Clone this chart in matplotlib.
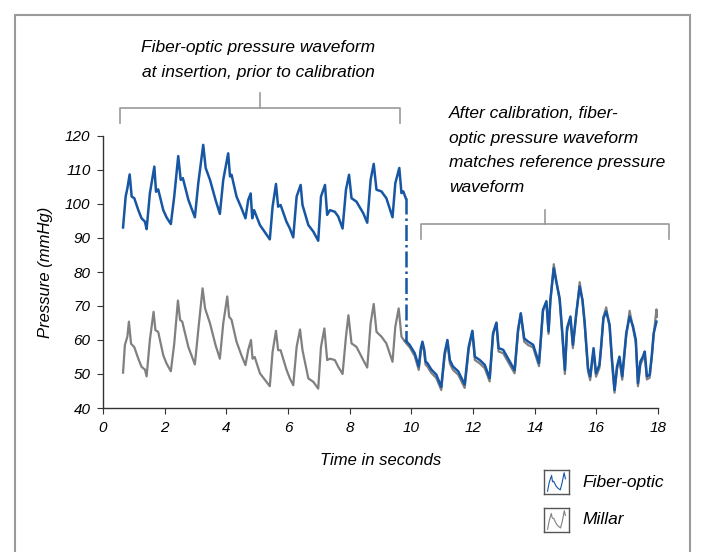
import matplotlib.pyplot as plt
from matplotlib.patches import Rectangle

plt.rcParams['font.family'] = ['Liberation Sans', 'DejaVu Sans']
plt.rcParams['font.style'] = 'italic'

# Fiber-optic trace before calibration (time s, mmHg)
fiber_pre_t = [0.65, 0.735, 0.79, 0.865, 0.93, 1.015, 1.145, 1.25, 1.36, 1.415,
               1.52, 1.665, 1.72, 1.79, 1.955, 2.06, 2.2, 2.31, 2.44, 2.52,
               2.59, 2.77, 2.88, 2.98, 3.09, 3.25, 3.33, 3.47, 3.65, 3.79,
               3.9, 4.06, 4.12, 4.17, 4.33, 4.49, 4.62, 4.71, 4.79, 4.84,
               4.9, 5.09, 5.41, 5.5, 5.61, 5.68, 5.76, 5.95, 6.06, 6.17,
               6.28, 6.41, 6.47, 6.66, 6.82, 6.98, 7.07, 7.2, 7.27, 7.36,
               7.52, 7.63, 7.77, 7.88, 7.98, 8.06, 8.22, 8.44, 8.57, 8.68,
               8.78, 8.87, 9.03, 9.19, 9.39, 9.48, 9.61, 9.68, 9.74, 9.82]
fiber_pre_v = [93.1, 102.2, 104.6, 108.7, 102.2, 101.7, 98.2, 95.8, 94.8, 92.6,
               103.1, 111.0, 103.6, 104.3, 98.2, 96.1, 94.1, 102.2, 114.1, 107.1,
               107.6, 101.2, 98.5, 96.1, 106.1, 117.4, 110.6, 107.1, 101.2, 97.1,
               107.1, 114.9, 108.1, 108.6, 102.2, 98.8, 95.8, 101.2, 103.1, 95.8,
               98.2, 93.8, 89.6, 99.2, 105.9, 99.2, 99.7, 94.8, 92.8, 90.2,
               102.2, 105.6, 99.7, 93.8, 91.9, 89.2, 102.2, 105.6, 96.8, 98.2,
               97.7, 96.3, 92.8, 104.2, 108.6, 101.7, 100.7, 97.3, 94.5, 107.1,
               111.8, 104.2, 103.7, 101.7, 96.1, 106.1, 110.6, 103.2, 103.7, 101.7]

# Fiber-optic trace after calibration
fiber_post_t = [9.82, 9.95, 10.11, 10.24, 10.31, 10.36, 10.42, 10.46, 10.52, 10.65,
                10.81, 10.97, 11.08, 11.17, 11.25, 11.35, 11.52, 11.73, 11.86, 11.98,
                12.06, 12.22, 12.38, 12.54, 12.65, 12.76, 12.83, 12.98, 13.19, 13.35,
                13.46, 13.55, 13.66, 13.79, 13.95, 14.14, 14.27, 14.38, 14.45, 14.51,
                14.62, 14.7, 14.81, 14.89, 14.98, 15.05, 15.16, 15.24, 15.35, 15.46,
                15.55, 15.62, 15.73, 15.8, 15.91, 15.99, 16.1, 16.15, 16.23, 16.32,
                16.43, 16.51, 16.59, 16.67, 16.75, 16.84, 16.97, 17.08, 17.19, 17.28,
                17.35, 17.43, 17.51, 17.57, 17.64, 17.73, 17.8, 17.86, 17.95]
fiber_post_v = [59.8, 58.5, 56.1, 52.2, 57.6, 59.5, 57.1, 53.7, 53.2, 51.3,
                49.8, 46.2, 56.1, 60.0, 54.1, 52.2, 50.8, 46.9, 58.0, 62.7,
                55.1, 54.1, 52.7, 48.8, 62.0, 65.1, 57.6, 57.1, 53.7, 51.1,
                63.0, 67.8, 60.5, 59.5, 58.6, 53.2, 68.9, 71.3, 62.5, 71.8,
                81.1, 77.2, 72.3, 63.0, 51.2, 63.5, 66.9, 58.6, 67.9, 75.7,
                71.8, 65.4, 51.7, 49.3, 57.6, 50.2, 52.7, 57.6, 66.4, 68.4,
                64.5, 54.1, 45.3, 52.2, 55.1, 49.3, 62.0, 66.9, 64.0, 60.1,
                47.3, 53.7, 55.1, 56.6, 49.3, 49.8, 55.6, 62.0, 65.4]

# Millar reference trace
millar_t = [0.65, 0.71, 0.79, 0.84, 0.91, 1.015, 1.145, 1.25, 1.36, 1.415,
            1.52, 1.64, 1.7, 1.79, 1.955, 2.06, 2.2, 2.31, 2.43, 2.5,
            2.57, 2.77, 2.88, 2.98, 3.09, 3.23, 3.31, 3.47, 3.65, 3.79,
            3.9, 4.03, 4.09, 4.17, 4.33, 4.49, 4.62, 4.71, 4.8, 4.85,
            4.92, 5.09, 5.41, 5.5, 5.61, 5.68, 5.76, 5.95, 6.06, 6.17,
            6.28, 6.39, 6.47, 6.66, 6.82, 6.98, 7.07, 7.18, 7.27, 7.36,
            7.52, 7.63, 7.77, 7.88, 7.96, 8.06, 8.22, 8.44, 8.57, 8.68,
            8.78, 8.87, 9.03, 9.19, 9.39, 9.48, 9.59, 9.68, 9.79,
            9.95, 10.11, 10.24, 10.31, 10.36, 10.42, 10.46, 10.52, 10.65,
            10.81, 10.97, 11.08, 11.17, 11.25, 11.35, 11.52, 11.73, 11.86, 11.98,
            12.06, 12.22, 12.38, 12.54, 12.65, 12.76, 12.83, 12.98, 13.19, 13.35,
            13.46, 13.55, 13.66, 13.79, 13.95, 14.14, 14.27, 14.38, 14.45, 14.51,
            14.62, 14.7, 14.81, 14.89, 14.98, 15.05, 15.16, 15.24, 15.35, 15.46,
            15.55, 15.62, 15.73, 15.8, 15.91, 15.99, 16.1, 16.15, 16.23, 16.32,
            16.43, 16.51, 16.59, 16.67, 16.75, 16.84, 16.97, 17.08, 17.19, 17.28,
            17.35, 17.43, 17.51, 17.57, 17.64, 17.73, 17.8, 17.86, 17.95, 17.97]
millar_v = [50.4, 58.5, 61.0, 65.4, 58.9, 57.9, 54.5, 52.1, 51.3, 49.3,
            60.0, 68.3, 62.9, 62.4, 55.5, 53.1, 50.8, 58.9, 71.6, 65.9,
            65.4, 57.9, 55.2, 52.8, 62.9, 75.2, 69.3, 64.9, 58.5, 54.5,
            64.9, 72.8, 66.9, 65.9, 59.5, 55.5, 52.6, 57.1, 60.0, 54.5,
            55.0, 50.2, 46.4, 56.5, 62.7, 57.0, 57.0, 51.3, 48.7, 46.7,
            58.0, 63.1, 57.0, 48.7, 47.7, 45.7, 58.0, 63.4, 54.1, 54.5,
            54.1, 52.1, 50.0, 61.0, 67.3, 59.0, 58.0, 54.1, 51.9, 64.9,
            70.6, 62.4, 61.0, 59.0, 53.6, 63.9, 69.3, 61.0, 59.5,
            57.8, 55.3, 51.2, 56.8, 59.0, 56.3, 52.8, 52.2, 50.3,
            48.8, 45.3, 55.3, 59.6, 53.1, 51.2, 49.8, 45.9, 57.2, 62.5,
            54.1, 53.1, 51.7, 47.8, 61.3, 65.0, 56.6, 56.1, 52.7, 50.2,
            62.3, 67.9, 59.5, 58.5, 57.8, 52.3, 68.5, 71.5, 61.8, 71.5,
            82.3, 77.5, 71.6, 62.0, 50.0, 62.6, 66.5, 57.6, 67.5, 77.0,
            71.5, 64.6, 50.8, 48.2, 56.8, 49.2, 51.8, 56.9, 66.8, 69.6,
            63.8, 53.1, 44.5, 51.3, 54.3, 48.3, 61.3, 68.6, 63.5, 59.2,
            46.4, 52.8, 54.3, 55.8, 48.4, 48.9, 55.0, 61.5, 69.0, 66.8]

x_ticks = [0, 2, 4, 6, 8, 10, 12, 14, 16, 18]
y_ticks = [40, 50, 60, 70, 80, 90, 100, 110, 120]

blue = '#1656a3'
grey = '#808080'
frame_grey = '#9a9a9a'

W, H = 701, 552
fig = plt.figure(figsize=(W / 100, H / 100), dpi=100)


def fx(px):
    return px / W


def fy(py):
    return 1 - py / H


# outer frame (bottom edge runs off the picture)
fig.patches.append(Rectangle((fx(15), fy(600)), fx(690) - fx(15), fy(15) - fy(600),
                             transform=fig.transFigure, fill=False,
                             edgecolor=frame_grey, lw=1.5))

ax = fig.add_axes([fx(103), fy(408), fx(658) - fx(103), fy(136) - fy(408)])
ax.plot(millar_t, millar_v, color=grey, lw=1.6)
ax.plot(fiber_pre_t, fiber_pre_v, color=blue, lw=1.8)
ax.plot([fiber_pre_t[-1], fiber_post_t[0]], [fiber_pre_v[-1], fiber_post_v[0]],
        color=blue, lw=1.8, ls='-.')
ax.plot(fiber_post_t, fiber_post_v, color=blue, lw=1.8)

ax.set_xlim(0, 18)
ax.set_ylim(40, 120)
ax.set_xticks(x_ticks)
ax.set_yticks(y_ticks)
ax.spines['top'].set_visible(False)
ax.spines['right'].set_visible(False)
for s in ['left', 'bottom']:
    ax.spines[s].set_color('#333333')
    ax.spines[s].set_linewidth(1.0)
ax.tick_params(direction='out', length=4, width=0.8, color='#333333',
               labelsize=11, pad=5)
ax.set_xlabel('Time in seconds', fontsize=12, labelpad=13)
ax.set_ylabel('Pressure (mmHg)', fontsize=12, labelpad=9)

# brackets
br = dict(color=frame_grey, lw=1.2, transform=fig.transFigure)
fig.add_artist(plt.Line2D([fx(120), fx(120), fx(400), fx(400)],
                          [fy(123), fy(108), fy(108), fy(123)], **br))
fig.add_artist(plt.Line2D([fx(260), fx(260)], [fy(108), fy(93)], **br))
fig.add_artist(plt.Line2D([fx(421), fx(421), fx(669), fx(669)],
                          [fy(239), fy(224), fy(224), fy(239)], **br))
fig.add_artist(plt.Line2D([fx(545), fx(545)], [fy(224), fy(210)], **br))

fig.text(fx(258), fy(48), 'Fiber-optic pressure waveform', ha='center', va='center', fontsize=12.5)
fig.text(fx(258), fy(73), 'at insertion, prior to calibration', ha='center', va='center', fontsize=12.5)
after_lines = ['After calibration, fiber-', 'optic pressure waveform',
               'matches reference pressure', 'waveform']
for i, line in enumerate(after_lines):
    fig.text(fx(449), fy(113 + 25 * i), line, ha='left', va='center', fontsize=12.5)

# legend icons, each showing a short stretch of its own trace
icons = [(fiber_pre_t[9:20], fiber_pre_v[9:20], blue, 470, 'Fiber-optic'),
         (millar_t[9:20], millar_v[9:20], grey, 508, 'Millar')]
for xs, ys, c, top, label in icons:
    ia = fig.add_axes([fx(544), fy(top + 24), fx(25), fy(0) - fy(24)])
    ia.plot(xs, ys, color=c, lw=0.8)
    ia.set_xticks([])
    ia.set_yticks([])
    ia.margins(0.2, 0.15)
    for s in ia.spines.values():
        s.set_color('#555555')
        s.set_linewidth(1.0)
    fig.text(fx(582), fy(top + 12), label, ha='left', va='center', fontsize=12.5)

fig.savefig('out.png', dpi=100)
